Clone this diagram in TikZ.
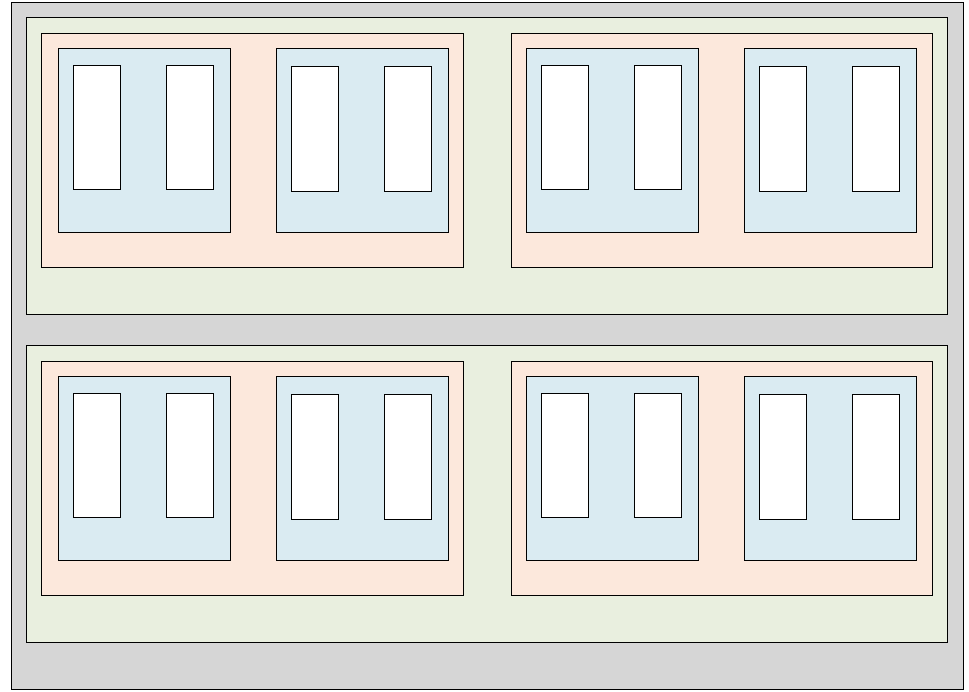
\documentclass[tikz,border=0pt]{standalone}
\usetikzlibrary{positioning}

\definecolor{rackgray}{HTML}{D6D6D6}
\definecolor{shelfgreen}{HTML}{E9EFDF}
\definecolor{traypeach}{HTML}{FCE8DC}
\definecolor{boxblue}{HTML}{DAEBF2}

\tikzset{
  rack/.style={draw=black, fill=rackgray, line width=0.9pt},
  shelf/.style={draw=black, fill=shelfgreen, line width=0.9pt},
  tray/.style={draw=black, fill=traypeach, line width=0.9pt},
  bin/.style={draw=black, fill=boxblue, line width=0.9pt},
  slot/.style={draw=black, fill=white, line width=0.9pt}
}

\begin{document}
\begin{tikzpicture}[x=1pt,y=-1pt]
	\useasboundingbox (0,0) rectangle (969,691);
	\draw[rack] (11,2) rectangle (963,689);
	
	% two shelves, the lower one 328 below the upper one
	\foreach \dy in {0,328} {
		\draw[shelf] (26,17+\dy) rectangle (947,314+\dy);
		\draw[tray] (41,33+\dy) rectangle (463,267+\dy);
		\draw[tray] (511,33+\dy) rectangle (932,267+\dy);
		\foreach \bx/\top/\bot in {58/65/189,276/66/191,526/65/189,744/66/191} {
			\draw[bin] (\bx,48+\dy) rectangle (\bx+172,232+\dy);
			\draw[slot] (\bx+15,\top+\dy) rectangle (\bx+62,\bot+\dy);
			\draw[slot] (\bx+108.5,\top+\dy) rectangle (\bx+155.5,\bot+\dy);
		}
	}
\end{tikzpicture}
\end{document}
